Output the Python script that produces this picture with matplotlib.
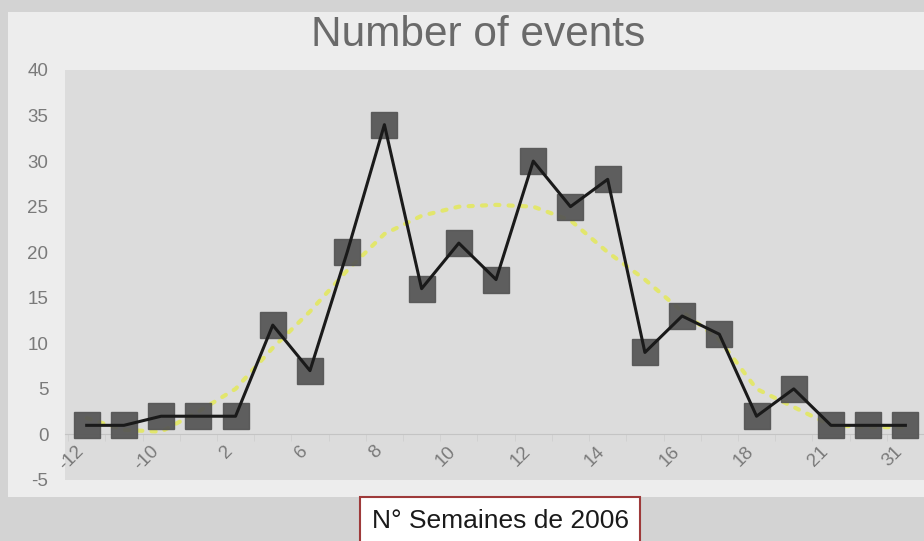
import matplotlib.pyplot as plt
from matplotlib.patches import Rectangle

weeks = ["-12", "-11", "-10", "1", "2", "5", "6", "7", "8", "9", "10", "11",
         "12", "13", "14", "15", "16", "17", "18", "20", "21", "22", "31"]
events = [1, 1, 2, 2, 2, 12, 7, 20, 34, 16, 21, 17, 30, 25, 28, 9, 13, 11, 2, 5, 1, 1, 1]
trend = [1.8, 0.5, 0.3, 2.5, 5, 9.5, 13.5, 18, 22, 24, 25, 25.2, 25, 23.5, 20, 17,
         13.5, 10.4, 5, 3, 1, 0.8, 0.8]
tick_labels = ["-12", "-10", "2", "6", "8", "10", "12", "14", "16", "18", "21", "31"]
tick_idx = list(range(0, len(weeks), 2))

plt.rcParams['font.family'] = ['Liberation Sans', 'DejaVu Sans']
plt.rcParams['axes.unicode_minus'] = False

fig = plt.figure(figsize=(9.24, 5.41), dpi=100)
fig.patch.set_facecolor('#d3d3d3')
# chart area
fig.patches.append(Rectangle((8 / 924, 1 - 497 / 541), 1, (497 - 12) / 541,
                             transform=fig.transFigure, facecolor='#ededed',
                             edgecolor='none', zorder=-10))

ax = fig.add_axes([65 / 924, 1 - 480 / 541, 1 - 65 / 924, (480 - 70) / 541])
ax.set_facecolor('#dcdcdc')
x = list(range(len(weeks)))

ax.plot(x, trend, color='#e4e85a', lw=3, ls=(0, (1, 2.2)), dash_capstyle='round',
        alpha=0.85, zorder=2)
ax.plot(x, events, ls='none', marker='s', ms=19, mfc='#555555', mec='#555555', alpha=0.93, zorder=3)
ax.plot(x, events, color='#1a1a1a', lw=2.2, zorder=4)

ax.set_xlim(-0.583, 22.18)
ax.set_ylim(-5, 40)
ax.set_yticks(range(-5, 41, 5))
ax.tick_params(axis='y', length=0, labelsize=13.5, labelcolor='#7a7a7a', pad=12)

for s in ['top', 'right', 'left']:
    ax.spines[s].set_visible(False)
ax.spines['bottom'].set_position(('data', 0))
ax.spines['bottom'].set_color('#c4c4c4')
ax.set_xticks([i - 0.3 for i in tick_idx])
ax.set_xticklabels(tick_labels, rotation=45, ha='right', va='top',
                   rotation_mode='anchor', fontsize=13.5, color='#7a7a7a')
ax.tick_params(axis='x', length=0, pad=6)
ax.set_xticks([i + 0.5 for i in range(-1, len(weeks))], minor=True)
ax.tick_params(axis='x', which='minor', length=5, color='#cfcfcf')

fig.text(0.517, 1 - 35 / 541, "Number of events", ha='center', va='center',
         fontsize=30.5, color='#6a6a6a')

fig.text(500 / 924, 1 - 521 / 541, "N° Semaines de 2006", ha='center', va='center',
         fontsize=19, color='#1a1a1a',
         bbox=dict(boxstyle='square,pad=0.45', facecolor='white', edgecolor='#9e3a3a', lw=1.5))

fig.savefig('out.png', dpi=100, facecolor=fig.get_facecolor())
